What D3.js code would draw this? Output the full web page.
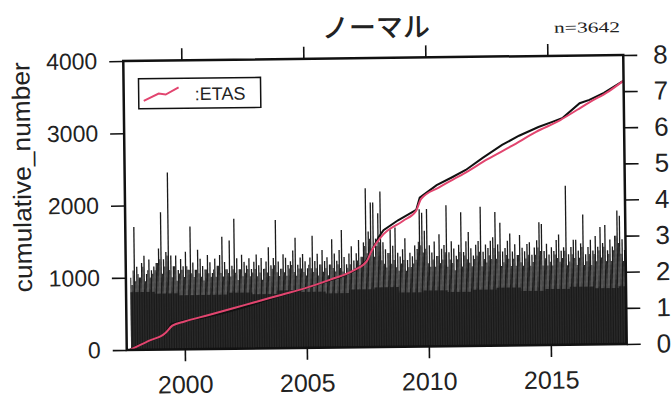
<!DOCTYPE html>
<html>
<head>
<meta charset="utf-8">
<script src="https://cdn.jsdelivr.net/npm/d3@7"></script>
<style>
body { margin: 0; padding: 0; background: #fff; }
svg { display: block; }
text { font-family: "Liberation Sans", Arial, sans-serif; fill: #222; }
</style>
</head>
<body>
<script>
// cumulative number of events (black line)
var cumYears = [1997.75, 1998.2, 1998.85, 1999.2, 1999.45, 2000.0, 2000.7, 2001.5, 2002.3, 2003.2, 2004.1, 2005.0, 2005.8, 2006.4, 2007.0, 2007.45, 2007.62, 2008.0, 2008.2, 2008.8, 2009.55, 2009.7, 2010.4, 2011.0, 2011.6, 2012.3, 2013.1, 2013.8, 2014.6, 2015.2, 2015.6, 2016.3, 2016.7, 2017.3, 2018.1];
var cumCounts = [0, 80, 160, 215, 350, 395, 430, 490, 560, 650, 740, 828, 910, 975, 1060, 1180, 1280, 1520, 1615, 1750, 1890, 2060, 2230, 2330, 2435, 2600, 2775, 2900, 3017, 3090, 3140, 3340, 3385, 3480, 3642];

// ETAS model (pink line)
var etasYears = [1997.75, 1998.5, 1999.2, 1999.5, 2000.0, 2001.0, 2002.0, 2003.0, 2004.0, 2005.0, 2006.0, 2007.0, 2007.5, 2007.7, 2008.2, 2009.0, 2009.55, 2009.75, 2010.5, 2011.5, 2012.5, 2013.5, 2014.5, 2015.5, 2016.2, 2016.7, 2017.5, 2018.1];
var etasCounts = [0, 120, 225, 330, 385, 470, 560, 650, 740, 830, 940, 1070, 1190, 1330, 1560, 1740, 1880, 2040, 2200, 2380, 2580, 2760, 2950, 3110, 3250, 3350, 3500, 3642];

// magnitudes: largest event in each 0.1-year bin from 1997.8
var binStart = 1997.8, binEnd = 2018.1;
var peakMag = [
  1.8, 3.4, 2.3, 2.0, 2.4, 2.6, 2.1, 2.5, 2.2, 2.3,
  2.4, 2.8, 3.8, 2.5, 2.7, 4.9, 2.6, 2.3, 2.6, 2.2,
  2.5, 2.3, 2.7, 2.2, 3.4, 2.4, 2.2, 2.75, 2.5, 2.3,
  2.2, 2.6, 2.4, 2.1, 2.5, 2.3, 2.6, 3.1, 2.4, 2.2,
  3.0, 2.3, 3.6, 2.5, 2.2, 2.6, 2.4, 2.3, 2.5, 2.2,
  2.4, 2.6, 2.3, 2.5, 2.2, 2.4, 2.8, 2.3, 2.5, 3.55,
  2.4, 2.2, 2.6, 2.5, 2.3, 2.4, 2.7, 3.05, 2.3, 2.5,
  2.6, 2.4, 2.2, 2.5, 3.1, 2.4, 2.6, 2.3, 2.7, 2.4,
  2.5, 2.3, 3.0, 2.6, 2.4, 2.7, 3.25, 2.5, 2.3, 2.6,
  2.8, 2.4, 2.6, 2.97, 2.5, 2.9, 4.4, 3.2, 4.0, 4.0,
  3.0, 3.7, 4.3, 2.9, 2.7, 2.6, 3.25, 2.8, 3.3, 2.6,
  2.5, 2.7, 3.0, 2.4, 2.6, 2.5, 2.8, 2.7, 3.8, 3.7,
  3.2, 3.8, 2.8, 2.6, 2.9, 2.5, 3.1, 2.7, 2.8, 3.9,
  2.6, 2.9, 2.7, 2.5, 2.8, 3.7, 2.6, 2.9, 3.15, 2.7,
  2.5, 2.8, 2.9, 3.85, 2.6, 2.8, 2.7, 2.9, 3.0, 3.7,
  2.8, 3.4, 2.6, 2.7, 2.9, 3.1, 2.6, 2.8, 2.5, 3.05,
  2.7, 2.6, 2.8, 2.85, 2.5, 2.7, 2.9, 3.4, 3.35, 2.6,
  2.8, 2.5, 2.7, 2.6, 2.9, 3.05, 2.6, 2.7, 4.4, 2.5,
  2.7, 2.9, 2.9, 2.6, 2.8, 3.6, 2.5, 2.7, 2.9, 2.6,
  3.0, 2.7, 3.25, 2.8, 3.3, 2.6, 2.9, 2.7, 3.0, 3.7,
  3.55, 2.9, 2.6
];
// second largest event in each bin (drawn half a bin earlier)
var secondMag = [
  2.0, 2.2, 1.9, 2.1, 2.0, 2.3, 1.9, 2.2, 2.0, 2.1,
  2.2, 2.4, 2.5, 2.1, 2.3, 2.6, 2.2, 2.0, 2.3, 1.9,
  2.1, 2.2, 2.0, 2.3, 2.2, 2.1, 2.0, 2.2, 2.1, 2.0,
  1.9, 2.2, 2.1, 2.0, 2.2, 2.0, 2.3, 2.1, 2.0, 2.2,
  2.1, 2.0, 2.2, 2.1, 1.9, 2.2, 2.0, 2.1, 2.2, 2.0,
  2.1, 2.2, 2.0, 2.1, 1.9, 2.2, 2.1, 2.0, 2.2, 2.3,
  2.1, 2.0, 2.2, 2.1, 2.0, 2.2, 2.3, 2.1, 2.0, 2.2,
  2.2, 2.1, 2.0, 2.3, 2.2, 2.1, 2.2, 2.0, 2.3, 2.1,
  2.2, 2.0, 2.3, 2.2, 2.1, 2.3, 2.2, 2.1, 2.0, 2.2,
  2.3, 2.1, 2.2, 2.4, 2.2, 2.5, 2.8, 2.6, 3.0, 2.7,
  2.5, 2.8, 2.9, 2.4, 2.3, 2.2, 2.6, 2.3, 2.4, 2.2,
  2.1, 2.3, 2.4, 2.1, 2.2, 2.2, 2.3, 2.4, 2.9, 2.8,
  2.6, 2.7, 2.3, 2.2, 2.4, 2.2, 2.5, 2.3, 2.4, 2.6,
  2.2, 2.4, 2.3, 2.1, 2.4, 2.6, 2.2, 2.5, 2.4, 2.3,
  2.2, 2.4, 2.5, 2.6, 2.2, 2.4, 2.3, 2.5, 2.4, 2.7,
  2.4, 2.6, 2.2, 2.3, 2.5, 2.4, 2.2, 2.4, 2.2, 2.5,
  2.3, 2.2, 2.4, 2.5, 2.2, 2.3, 2.5, 2.7, 2.6, 2.2,
  2.4, 2.2, 2.3, 2.2, 2.5, 2.4, 2.3, 2.4, 2.6, 2.2,
  2.3, 2.5, 2.4, 2.2, 2.4, 2.7, 2.2, 2.3, 2.5, 2.2,
  2.5, 2.3, 2.6, 2.4, 2.7, 2.3, 2.5, 2.3, 2.6, 3.0,
  2.8, 2.5, 2.3
];
// level below which the small events fill the plot (one value per year from 1997.8)
var baseMag = [1.6, 1.55, 1.5, 1.5, 1.55, 1.5, 1.6, 1.55, 1.5, 1.6, 1.65, 1.5, 1.55, 1.5, 1.55, 1.6, 1.5, 1.55, 1.6, 1.55, 1.6];

var xTicks = [2000, 2005, 2010, 2015];
var yTicks = [0, 1000, 2000, 3000, 4000];
var magTicks = [0, 1, 2, 3, 4, 5, 6, 7, 8];
var total = 3642;

var W = 672, H = 404;
var pLeft = 125, pTop = 58, pRight = 625, pBottom = 347;

var svg = d3.select("body").append("svg")
    .attr("width", W)
    .attr("height", H);

// the scanned figure is slightly tilted
var g = svg.append("g").attr("transform", "rotate(-0.69,375,203)");

var x = d3.scaleLinear().domain([1997.62, 2018.11]).range([pLeft, pRight]);
var y = d3.scaleLinear().domain([0, 4000]).range([pBottom, pTop]);
var yMag = d3.scaleLinear().domain([0, 8]).range([pBottom, pTop]);

// magnitude spikes
var baseArea = d3.area()
    .x(function(d, i){ return x(Math.min(binStart + i, binEnd)); })
    .y0(yMag(0))
    .y1(function(d){ return yMag(d); })
    .curve(d3.curveStepAfter);
var baseData = baseMag.concat([baseMag[baseMag.length - 1]]);
g.append("path")
    .datum(baseData)
    .attr("d", baseArea)
    .attr("fill", "#333");

function spikes(values, offset, width, colour) {
    g.append("g").selectAll("line")
        .data(values)
        .enter()
        .append("line")
        .attr("x1", function(d, i){ return x(binStart + 0.1 * i + offset); })
        .attr("x2", function(d, i){ return x(binStart + 0.1 * i + offset); })
        .attr("y1", yMag(0))
        .attr("y2", function(d){ return yMag(d); })
        .style("stroke", colour)
        .style("stroke-width", width);
}
spikes(secondMag, 0.02, 1.1, "#2a2a2a");
spikes(peakMag, 0.07, 1.3, "#1a1a1a");

// cumulative lines
var cumLine = d3.line()
    .x(function(d){ return x(d[0]); })
    .y(function(d){ return y(d[1]); });

g.append("path")
    .datum(d3.zip(cumYears, cumCounts))
    .attr("d", cumLine)
    .attr("fill", "none")
    .attr("stroke", "#111")
    .attr("stroke-width", 2);

g.append("path")
    .datum(d3.zip(etasYears, etasCounts))
    .attr("d", cumLine.curve(d3.curveMonotoneX))
    .attr("fill", "none")
    .attr("stroke", "#e2456f")
    .attr("stroke-width", 2);

// frame
g.append("rect")
    .attr("x", pLeft).attr("y", pTop)
    .attr("width", pRight - pLeft).attr("height", pBottom - pTop)
    .attr("fill", "none")
    .attr("stroke", "#111")
    .attr("stroke-width", 2.5);

// axes
var axL = g.append("g").attr("transform", "translate(" + pLeft + ",0)")
    .call(d3.axisLeft(y).tickValues(yTicks).tickFormat(d3.format("d")).tickSize(14).tickPadding(12));
var axR = g.append("g").attr("transform", "translate(" + pRight + ",0)")
    .call(d3.axisRight(yMag).tickValues(magTicks).tickSize(14).tickPadding(16));
var axB = g.append("g").attr("transform", "translate(0," + pBottom + ")")
    .call(d3.axisBottom(x).tickValues(xTicks).tickFormat(d3.format("d")).tickSize(12).tickPadding(14));
var axT = g.append("g").attr("transform", "translate(0," + pTop + ")")
    .call(d3.axisTop(x).tickValues(xTicks).tickFormat("").tickSize(12));

[axL, axR, axB, axT].forEach(function(a){
    a.select(".domain").remove();
    a.selectAll(".tick line").attr("stroke", "#111").attr("stroke-width", 1.6);
    a.selectAll("text").style("font-family", "'Liberation Sans', Arial, sans-serif").attr("fill", "#222");
});
axL.selectAll("text").style("font-size", "23px");
axR.selectAll("text").style("font-size", "26px");
axB.selectAll("text").style("font-size", "25px");

// axis title
g.append("text")
    .attr("transform", "translate(31,173) rotate(-90)")
    .attr("text-anchor", "middle")
    .attr("textLength", 230)
    .attr("lengthAdjust", "spacingAndGlyphs")
    .style("font-size", "25px")
    .text("cumulative_number");

// title and count
g.append("text")
    .attr("x", 378).attr("y", 37)
    .attr("text-anchor", "middle")
    .style("font-family", "'Noto Sans CJK JP', sans-serif")
    .style("font-weight", 500)
    .style("font-size", "27px")
    .text("ノーマル");

g.append("text")
    .attr("x", 556).attr("y", 35)
    .attr("textLength", 66)
    .attr("lengthAdjust", "spacingAndGlyphs")
    .style("font-family", "'Liberation Serif', serif")
    .style("font-size", "15px")
    .text("n=" + total);

// legend
var leg = g.append("g").attr("transform", "translate(140,76)");
leg.append("rect")
    .attr("width", 122).attr("height", 30)
    .attr("fill", "#fff")
    .attr("stroke", "#111")
    .attr("stroke-width", 1.5);
leg.append("path")
    .attr("d", d3.line()([[5, 22], [20, 15], [27, 16], [40, 9]]))
    .attr("fill", "none")
    .attr("stroke", "#e2456f")
    .attr("stroke-width", 2);
leg.append("text")
    .attr("x", 56).attr("y", 22)
    .style("font-size", "18px")
    .text(":ETAS");
</script>
</body>
</html>
